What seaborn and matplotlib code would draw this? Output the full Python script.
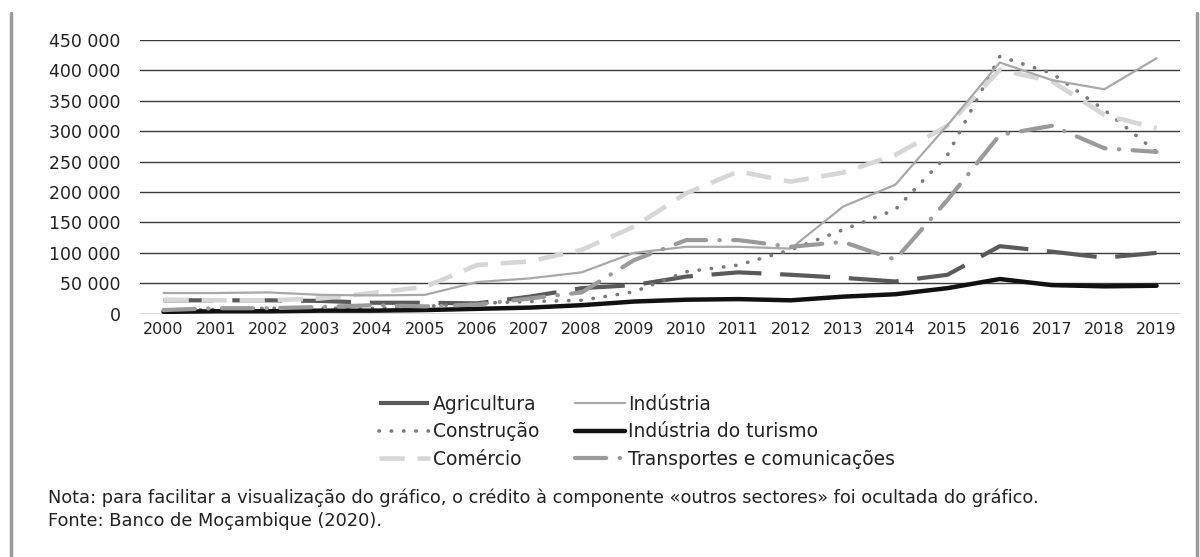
import matplotlib
matplotlib.use("Agg")
import matplotlib.pyplot as plt
import seaborn as sns
from matplotlib.lines import Line2D
from matplotlib.ticker import FuncFormatter

sns.set_style("white")
plt.rcParams['font.family'] = ['DejaVu Sans']
plt.rcParams['text.color'] = '#222222'

# valores (créditos por sector)
anos = list(range(2000, 2020))
agricultura = [22000, 22000, 22000, 21000, 18000, 18000, 17000, 28000, 42000, 47000,
               61000, 68000, 64000, 59000, 53000, 64000, 111000, 102000, 92000, 100000]
industria = [34000, 34000, 35000, 31000, 30000, 31000, 52000, 58000, 68000, 100000,
             110000, 110000, 107000, 176000, 212000, 310000, 413000, 384000, 369000, 420000]
construcao = [5000, 7000, 9000, 9000, 9000, 12000, 17000, 20000, 22000, 36000,
              69000, 80000, 105000, 138000, 171000, 261000, 423000, 395000, 335000, 266000]
turismo = [3000, 4000, 4000, 5000, 5000, 6000, 8000, 10000, 14000, 20000,
           23000, 24000, 22000, 28000, 32000, 42000, 57000, 47000, 45000, 46000]
comercio = [23000, 22000, 22000, 25000, 34000, 44000, 80000, 86000, 105000, 143000,
            198000, 234000, 217000, 232000, 261000, 309000, 401000, 382000, 327000, 305000]
transportes = [6000, 9000, 9000, 11000, 14000, 12000, 15000, 25000, 35000, 88000,
               121000, 121000, 110000, 118000, 89000, 187000, 294000, 309000, 272000, 266000]

series = [
    ("Agricultura", agricultura, dict(color="#5a5a5a", lw=3.0, linestyle=(0, (12, 4.5)))),
    ("Construção", construcao, dict(color="#7a7a7a", lw=2.6, linestyle=(0, (0.1, 3.3)),
                                    dash_capstyle="round")),
    ("Comércio", comercio, dict(color="#d6d6d6", lw=3.3, linestyle=(0, (5.5, 2.8)))),
    ("Indústria", industria, dict(color="#a8a8a8", lw=1.6, linestyle="-")),
    ("Indústria do turismo", turismo, dict(color="#111111", lw=3.2, linestyle="-")),
    ("Transportes e comunicações", transportes,
     dict(color="#9a9a9a", lw=3.0, linestyle=(0, (7.5, 3.2, 0.1, 3.2)), dash_capstyle="round")),
]

fig = plt.figure(figsize=(12, 5.57), dpi=100)
ax = fig.add_axes([0.1167, 0.4368, 0.8667, 0.4914])

for nome, valores, estilo in series:
    sns.lineplot(x=anos, y=valores, ax=ax, label=nome, **estilo)

ax.set_xlim(1999.55, 2019.45)
ax.set_ylim(0, 450000)
ax.set_yticks(range(0, 450001, 50000))
ax.yaxis.set_major_formatter(FuncFormatter(lambda v, p: f"{int(v):,}".replace(",", " ")))
ax.set_xticks(anos)
ax.set_xticklabels([str(a) for a in anos])
ax.grid(axis='y', color='#3a3a3a', lw=1.0)
ax.set_axisbelow(True)
for s in ax.spines.values():
    s.set_visible(False)
ax.tick_params(axis='y', labelsize=12.5, length=0, pad=14, labelcolor='#222222')
ax.tick_params(axis='x', labelsize=11.5, length=0, pad=6, labelcolor='#222222')
ax.set_xlabel("")
ax.set_ylabel("")

ax.legend(loc='center', bbox_to_anchor=(0.531, 0.225), bbox_transform=fig.transFigure,
          ncol=2, frameon=False, fontsize=13.5, handlelength=2.7, handletextpad=0.15,
          columnspacing=1.9, labelspacing=0.45)

fig.text(0.04, 0.107, "Nota: para facilitar a visualização do gráfico, o crédito à componente "
         "«outros sectores» foi ocultada do gráfico.", fontsize=12.8, va='center')
fig.text(0.04, 0.064, "Fonte: Banco de Moçambique (2020).", fontsize=12.8, va='center')

fig.add_artist(Line2D([0.009, 0.009], [0, 0.977], color='#9a9a9a', lw=2.5))
fig.add_artist(Line2D([0.9975, 0.9975], [0, 0.977], color='#9a9a9a', lw=2.5))

fig.savefig("out.png", dpi=100)
